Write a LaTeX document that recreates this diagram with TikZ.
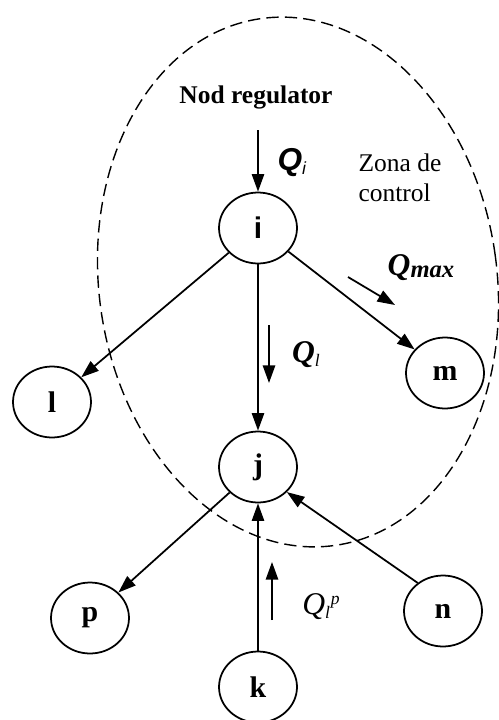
\documentclass[tikz,border=0pt]{standalone}
\usepackage{fontspec}
\setmainfont{Liberation Serif}
\setsansfont{Liberation Sans}
\usetikzlibrary{arrows.meta,shapes.geometric}
\newcommand{\sbx}[1]{\raisebox{-2pt}{\fontsize{10}{10}\selectfont #1}}
\newcommand{\spx}[1]{\raisebox{6pt}{\fontsize{10}{10}\selectfont #1}}

\begin{document}
\begin{tikzpicture}[
  x=0.02cm, y=-0.02cm,
  font=\fontsize{14.5}{17}\selectfont,
  nd/.style={ellipse, draw, line width=1pt, minimum width=1.56cm, minimum height=1.42cm,
             inner sep=0pt, font=\fontsize{17}{19}\selectfont\bfseries},
  txt/.style={inner sep=1pt, align=left},
  qtxt/.style={inner sep=1pt, font=\fontsize{18}{20}\selectfont},
  >={Triangle[length=10pt, width=7pt]},
  flow/.style={->, line width=1pt},
  zone/.style={dash pattern=on 7pt off 3.5pt, line width=0.8pt},
]
\useasboundingbox (0,0) rectangle (499,720);
% ----- control zone -----
\draw[zone, rotate around={8:(298,282)}] (298,282) ellipse [x radius=199, y radius=266];
% ----- nodes -----
\node[nd, font=\fontsize{17}{19}\selectfont\sffamily\bfseries] (i) at (258,228) {i};
\node[nd] (l) at (52,402) {l};
\node[nd] (m) at (445,373) {m};
\node[nd] (j) at (258,467) {j};
\node[nd] (p) at (90,618) {p};
\node[nd] (n) at (443,611) {n};
\node[nd] (k) at (258,687) {k};
% ----- texts -----
\node[txt, font=\fontsize{14.5}{17}\selectfont\bfseries] (reg) at (256,97) {Nod regulator};
\node[txt] (zona) at (400,178) {Zona de\\control};
\node[qtxt] (qi) at (292,163) {\textsf{\textbf{\textit{Q}}}\sbx{\textsf{\textit{i}}}};
\node[qtxt] (qmax) at (421,268) {\textbf{\textit{Q}}\raisebox{-1pt}{\fontsize{14}{14}\selectfont\textbf{\textit{max}}}};
\node[qtxt] (ql) at (306,355) {\textbf{\textit{Q}}\sbx{\textit{l}}};
\node[qtxt] (qlp) at (321,607) {\textit{Q}\sbx{\textit{l}}\kern0.5pt\spx{\textit{p}}};
% ----- edges -----
\coordinate (in) at (258,130);
\draw[flow] (in) -- (i);
\draw[flow] (i) -- (l);
\draw[flow] (i) -- (m);
\draw[flow] (i) -- (j);
\draw[flow] (j) -- (p);
\draw[flow] (k) -- (j);
\draw[flow] (n.132) -- (j.-41);
% ----- flow markers -----
\coordinate (qmaxa) at (348,277); \coordinate (qmaxb) at (395,305);
\coordinate (qla) at (269,325); \coordinate (qlb) at (269,383);
\coordinate (qlpa) at (272,620); \coordinate (qlpb) at (272,562);
\draw[flow] (qmaxa) -- (qmaxb);
\draw[flow] (qla) -- (qlb);
\draw[flow] (qlpa) -- (qlpb);
\end{tikzpicture}
\end{document}
